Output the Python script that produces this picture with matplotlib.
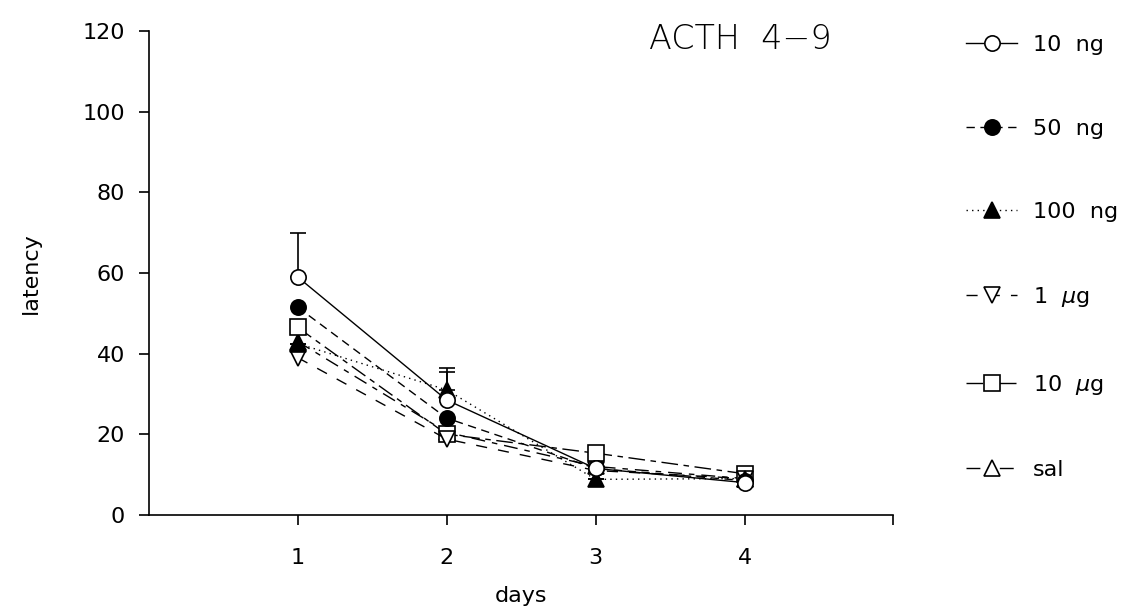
import numpy as np
import matplotlib
matplotlib.use("Agg")
import matplotlib.pyplot as plt
from matplotlib.lines import Line2D

days = [1, 2, 3, 4]

ng10 = [59.0, 28.5, 11.5, 8.0]
ng50 = [51.5, 24.0, 11.5, 8.5]
ng100 = [42.5, 31.0, 8.8, 9.0]
ug1 = [39.0, 18.8, 11.0, 9.0]
ug10 = [46.5, 20.0, 15.3, 10.2]
sal = [43.0, 20.5, 12.0, 9.0]

# upper error bars only
ng10_err = [11.0, 7.0, 0.0, 0.0]
ng100_err = [0.0, 5.5, 0.0, 0.0]

labels = ["10  ng", "50  ng", "100  ng", r"1  $\mu$g", r"10  $\mu$g", "sal"]

plt.rcParams['font.family'] = ['DejaVu Sans']
plt.rcParams['mathtext.fontset'] = 'dejavusans'

fig = plt.figure(figsize=(11.44, 6.10), dpi=100)
ax = fig.add_axes([0.130, 0.156, 0.651, 0.793])

lw = 1.0
ms = 11
series = [
    (ng10, 'o', 'white', '-'),
    (ng50, 'o', 'black', (0, (6, 4))),
    (ng100, '^', 'black', (0, (1, 3))),
    (ug1, 'v', 'white', (0, (8, 8))),
    (ug10, 's', 'white', (0, (12, 4, 4, 4))),
    (sal, '^', 'white', (0, (10, 5, 4, 5))),
]

# draw sal first so it sits behind the others
order = [5, 4, 3, 2, 1, 0]
for i in order:
    vals, mk, fc, ls = series[i]
    ax.plot(days, vals, color='black', linestyle=ls, linewidth=lw,
            marker=mk, markersize=ms, markerfacecolor=fc,
            markeredgecolor='black', markeredgewidth=1.2, zorder=3 + (5 - i))

ax.errorbar(days, ng10, yerr=[np.zeros(4), ng10_err], fmt='none',
            ecolor='black', elinewidth=1.2, capsize=5.5, capthick=1.2, zorder=2)
ax.errorbar(days, ng100, yerr=[np.zeros(4), ng100_err], fmt='none',
            ecolor='black', elinewidth=1.2, capsize=5.5, capthick=1.2, zorder=2)

ax.set_xlim(0, 5)
ax.set_ylim(0, 120)
ax.set_xticks([1, 2, 3, 4, 5])
ax.set_xticklabels(["1", "2", "3", "4", ""])
ax.set_yticks([0, 20, 40, 60, 80, 100, 120])
ax.spines['top'].set_visible(False)
ax.spines['right'].set_visible(False)
ax.spines['left'].set_linewidth(1.2)
ax.spines['bottom'].set_linewidth(1.2)
ax.tick_params(axis='both', direction='out', length=7, width=1.2,
               labelsize=16, pad=10)
ax.tick_params(axis='x', pad=17)

ax.set_xlabel("days", fontsize=16, labelpad=13)
ax.set_ylabel("latency", fontsize=16, labelpad=30)

fig.text(0.647, 0.935, "ACTH  4\u22129", fontsize=24, ha='center', va='center',
         fontweight='light')

leg_handles = []
for vals, mk, fc, ls in series:
    leg_handles.append(Line2D([0], [0], color='black', linestyle=ls, linewidth=lw,
                              marker=mk, markersize=ms, markerfacecolor=fc,
                              markeredgecolor='black', markeredgewidth=1.2))
fig.legend(leg_handles, labels, loc='upper left', bbox_to_anchor=(0.827, 0.975),
           frameon=False, fontsize=16, labelspacing=2.85, handlelength=2.3,
           handletextpad=0.7, numpoints=1)

plt.savefig("out.png", dpi=100)
plt.close(fig)
